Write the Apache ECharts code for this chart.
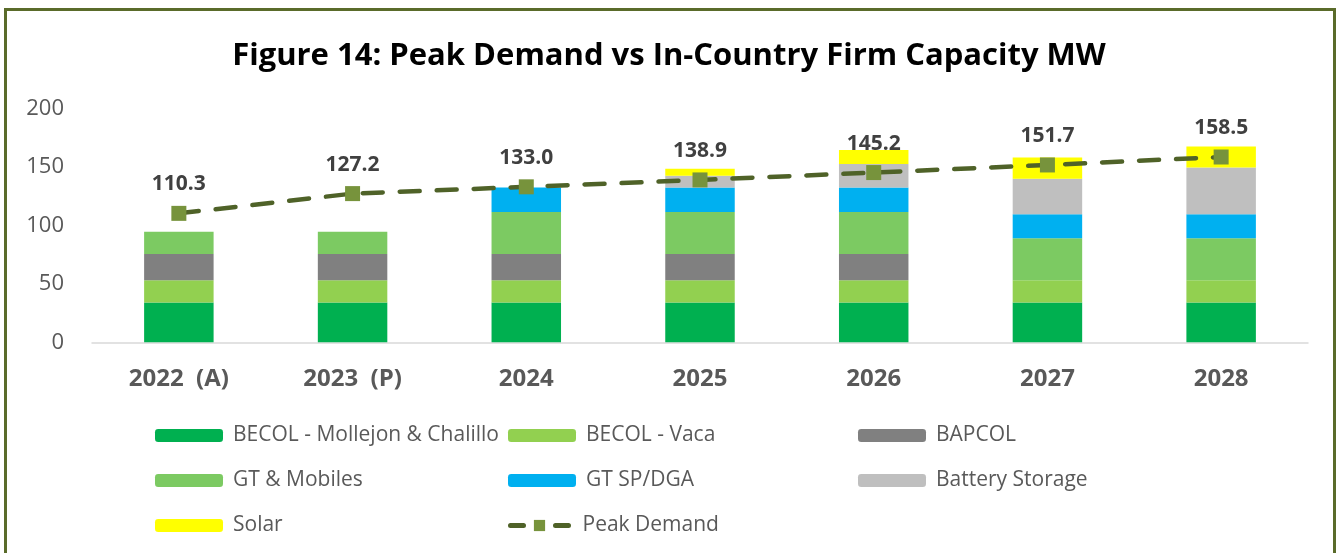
<!DOCTYPE html>
<html>
<head>
<meta charset="utf-8">
<script src="https://cdn.jsdelivr.net/npm/echarts@6/dist/echarts.min.js"></script>
<style>
html,body{margin:0;padding:0;background:#fff;}
#chart{width:1338px;height:553px;}
</style>
</head>
<body>
<div id="chart"></div>
<script>
// ---- data ----
var categories = ['2022  (A)', '2023  (P)', '2024', '2025', '2026', '2027', '2028'];
var becolMollejon = [34, 34, 34, 34, 34, 34, 34];
var becolVaca = [19, 19, 19, 19, 19, 19, 19];
var bapcol = [22.5, 22.5, 22.5, 22.5, 22.5, 0, 0];
var gtMobiles = [19, 19, 36, 36, 36, 36, 36];
var gtSpDga = [0, 0, 21, 21, 21, 20.5, 20.5];
var batteryStorage = [0, 0, 0, 10, 20, 30.5, 40];
var solar = [0, 0, 0, 6, 12, 18, 18];
var peakDemand = [110.3, 127.2, 133.0, 138.9, 145.2, 151.7, 158.5];
var yTicks = [0, 50, 100, 150, 200];

var FONT = 'Open Sans';
var barNames = ['BECOL - Mollejon & Chalillo', 'BECOL - Vaca', 'BAPCOL', 'GT & Mobiles', 'GT SP/DGA', 'Battery Storage', 'Solar'];
var barData = [becolMollejon, becolVaca, bapcol, gtMobiles, gtSpDga, batteryStorage, solar];
var barColors = ['#00b050', '#92d050', '#808080', '#7cca62', '#00b0f0', '#bfbfbf', '#ffff00'];

var series = barNames.map(function (n, i) {
  return {
    name: n, type: 'bar', stack: 'cap', barWidth: '40%',
    data: barData[i],
    itemStyle: { color: barColors[i] },
    emphasis: { disabled: true }
  };
});
series.push({
  name: 'Peak Demand', type: 'line', data: peakDemand,
  symbol: 'rect', symbolSize: 15,
  itemStyle: { color: '#77933c' },
  lineStyle: { color: '#4f6228', width: 4.5, type: [20, 17], cap: 'round' },
  label: {
    show: true, position: 'top', distance: 11,
    formatter: function (p) { return p.value.toFixed(1); },
    fontFamily: FONT, fontWeight: 'bold', fontSize: 21, color: '#404040'
  },
  z: 5
});

var allNames = barNames.concat(['Peak Demand']);
var colX = [155, 508, 858];
var rowY = [425, 470, 515];
var legends = allNames.map(function (n, i) {
  var isLine = (n === 'Peak Demand');
  var lg = {
    data: [n], left: colX[i % 3], top: rowY[Math.floor(i / 3)],
    itemWidth: isLine ? 58 : 68, itemHeight: isLine ? 14 : 13, itemGap: 0, padding: 0,
    selectedMode: false,
    textStyle: { fontFamily: FONT, fontSize: 21, color: '#595959', padding: [0, 0, 0, isLine ? 9 : 5] }
  };
  if (isLine) {
    lg.lineStyle = { width: 5, type: [13, 32], color: '#4f6228', cap: 'round' };
  }
  return lg;
});

var chart = echarts.init(document.getElementById('chart'));
chart.setOption({
  animation: false,
  backgroundColor: '#fff',
  title: {
    text: 'Figure 14: Peak Demand vs In-Country Firm Capacity MW',
    left: 'center', top: 36,
    textStyle: { fontFamily: FONT, fontWeight: 'bold', fontSize: 31, color: '#000' }
  },
  graphic: [{
    type: 'rect', silent: true,
    shape: { x: 5.5, y: 9.5, width: 1329, height: 600 },
    style: { fill: 'none', stroke: '#5a6b2a', lineWidth: 3 }
  }],
  legend: legends,
  grid: { left: 92, right: 30, top: 108.5, bottom: 210.7 },
  xAxis: {
    type: 'category', data: categories,
    axisLine: { lineStyle: { color: '#d9d9d9', width: 1.5 } },
    axisTick: { show: false },
    axisLabel: { fontFamily: FONT, fontWeight: 'bold', fontSize: 24, color: '#595959', margin: 25 }
  },
  yAxis: {
    type: 'value', min: yTicks[0], max: yTicks[yTicks.length - 1], interval: 50,
    splitLine: { show: false },
    axisLine: { show: false },
    axisTick: { show: false },
    axisLabel: { fontFamily: FONT, fontSize: 22, color: '#595959', margin: 28 }
  },
  series: series
});
</script>
</body>
</html>
